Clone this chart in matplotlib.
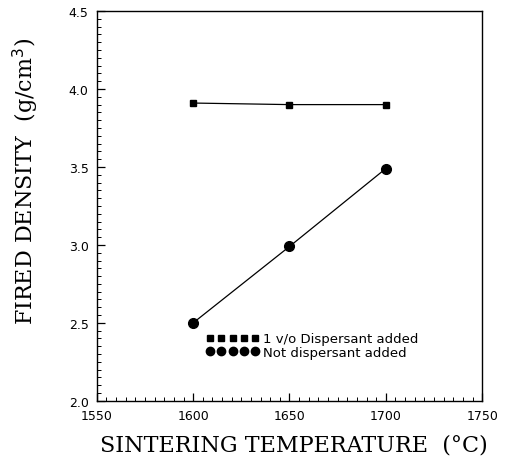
import matplotlib.pyplot as plt
from matplotlib.lines import Line2D
from matplotlib.ticker import MultipleLocator

# Datos
temperatura = [1600, 1650, 1700]
con_dispersante = [3.91, 3.90, 3.90]
sin_dispersante = [2.50, 2.99, 3.49]

etiquetas = ['1 v/o Dispersant added', 'Not dispersant added']
x_ticks = [1550, 1600, 1650, 1700, 1750]
y_ticks = [2.0, 2.5, 3.0, 3.5, 4.0, 4.5]

fig = plt.figure(figsize=(5.07, 4.64), dpi=100)
ax = fig.add_axes([0.191, 0.134, 0.760, 0.840])

# Series
ax.plot(temperatura, con_dispersante, color='black', linewidth=0.9,
        marker='s', markersize=5)
ax.plot(temperatura, sin_dispersante, color='black', linewidth=0.9,
        marker='o', markersize=7)

# Ejes
ax.set_xlim(1550, 1750)
ax.set_ylim(2.0, 4.5)
ax.set_xticks(x_ticks)
ax.set_yticks(y_ticks)
ax.set_xticklabels([str(t) for t in x_ticks], fontsize=9)
ax.set_yticklabels(['%.1f' % t for t in y_ticks], fontsize=9)
ax.xaxis.set_minor_locator(MultipleLocator(5))
ax.yaxis.set_minor_locator(MultipleLocator(0.05))
ax.tick_params(which='both', direction='in', top=False, right=False)
ax.tick_params(which='major', length=6, width=0.9, pad=6)
ax.tick_params(which='minor', length=3, width=0.7)
for s in ax.spines.values():
    s.set_linewidth(1.0)

# Leyenda
handles = [
    Line2D([], [], color='black', linestyle='none', marker='s', markersize=5),
    Line2D([], [], color='black', linestyle='none', marker='o', markersize=6),
]
ax.legend(handles, etiquetas, loc='lower left', bbox_to_anchor=(0.27, 0.094),
          numpoints=5, handlelength=4.0, handletextpad=0.3, labelspacing=0.05,
          frameon=False, fontsize=9.5, borderaxespad=0)

# Etiquetas
fig.text(0.58, 0.04, 'SINTERING TEMPERATURE  (°C)', ha='center', va='center',
         family='DejaVu Serif', fontsize=16)
fig.text(0.052, 0.608, 'FIRED DENSITY  (g/cm$^3$)', ha='center', va='center',
         rotation=90, family='DejaVu Serif', fontsize=16)

fig.savefig('out.png', dpi=100)
